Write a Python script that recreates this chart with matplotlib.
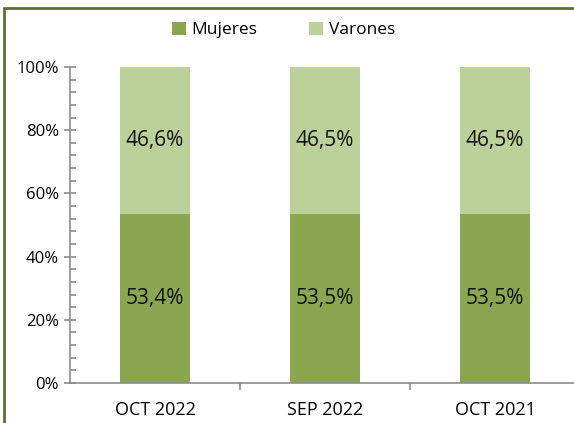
import matplotlib.pyplot as plt
from matplotlib.ticker import MultipleLocator, PercentFormatter
from matplotlib.patches import Rectangle

# data
categories = ['OCT 2022', 'SEP 2022', 'OCT 2021']
mujeres = [53.4, 53.5, 53.5]
varones = [46.6, 46.5, 46.5]

color_muj = '#8aa650'
color_var = '#bcd09a'
frame_color = '#5b7232'

plt.rcParams['font.family'] = ['Open Sans', 'DejaVu Sans']

fig = plt.figure(figsize=(5.74, 4.23), dpi=100)

# outer frame of the chart (clipped at the right/bottom like the source)
fig.patches.append(Rectangle((4 / 574, -0.05), 1.2, 1 - 8 / 423 + 0.05,
                             transform=fig.transFigure, fill=False,
                             edgecolor=frame_color, linewidth=2))

ax = fig.add_axes([70 / 574, 1 - 383 / 423, 510 / 574, (383 - 67) / 423])

x = range(len(categories))
ax.bar(x, mujeres, width=0.41, color=color_muj, label='Mujeres')
ax.bar(x, varones, width=0.41, bottom=mujeres, color=color_var, label='Varones')

for i in x:
    ax.text(i, mujeres[i] / 2, f'{mujeres[i]:.1f}%'.replace('.', ','),
            ha='center', va='center', fontsize=15, color='#111111')
    ax.text(i, mujeres[i] + varones[i] / 2, f'{varones[i]:.1f}%'.replace('.', ','),
            ha='center', va='center', fontsize=15, color='#111111')

ax.set_xlim(-0.5, 2.5)
ax.set_ylim(0, 100)
ax.yaxis.set_major_locator(MultipleLocator(20))
ax.yaxis.set_minor_locator(MultipleLocator(4))
ax.yaxis.set_major_formatter(PercentFormatter(decimals=0))
ax.set_xticks(list(x))
ax.set_xticklabels(categories)
ax.set_xticks([0.5, 1.5], minor=True)

for s in ['top', 'right']:
    ax.spines[s].set_visible(False)
for s in ['left', 'bottom']:
    ax.spines[s].set_color('#8c8c8c')
    ax.spines[s].set_linewidth(1.2)

ax.tick_params(axis='y', which='major', direction='inout', length=8, width=1.2,
               color='#8c8c8c', labelsize=12, pad=4)
ax.tick_params(axis='y', which='minor', direction='in', length=4, width=1.2,
               color='#8c8c8c')
ax.tick_params(axis='x', which='major', length=0, labelsize=13, pad=13)
ax.tick_params(axis='x', which='minor', direction='out', length=5, width=1.2,
               color='#8c8c8c')

fig.legend(loc='center', bbox_to_anchor=(0.494, 1 - 30 / 423), ncol=2,
           frameon=False, fontsize=12.5, handlelength=0.8, handleheight=0.8,
           handletextpad=0.3, columnspacing=3.0)

fig.savefig('out.png', dpi=100)
